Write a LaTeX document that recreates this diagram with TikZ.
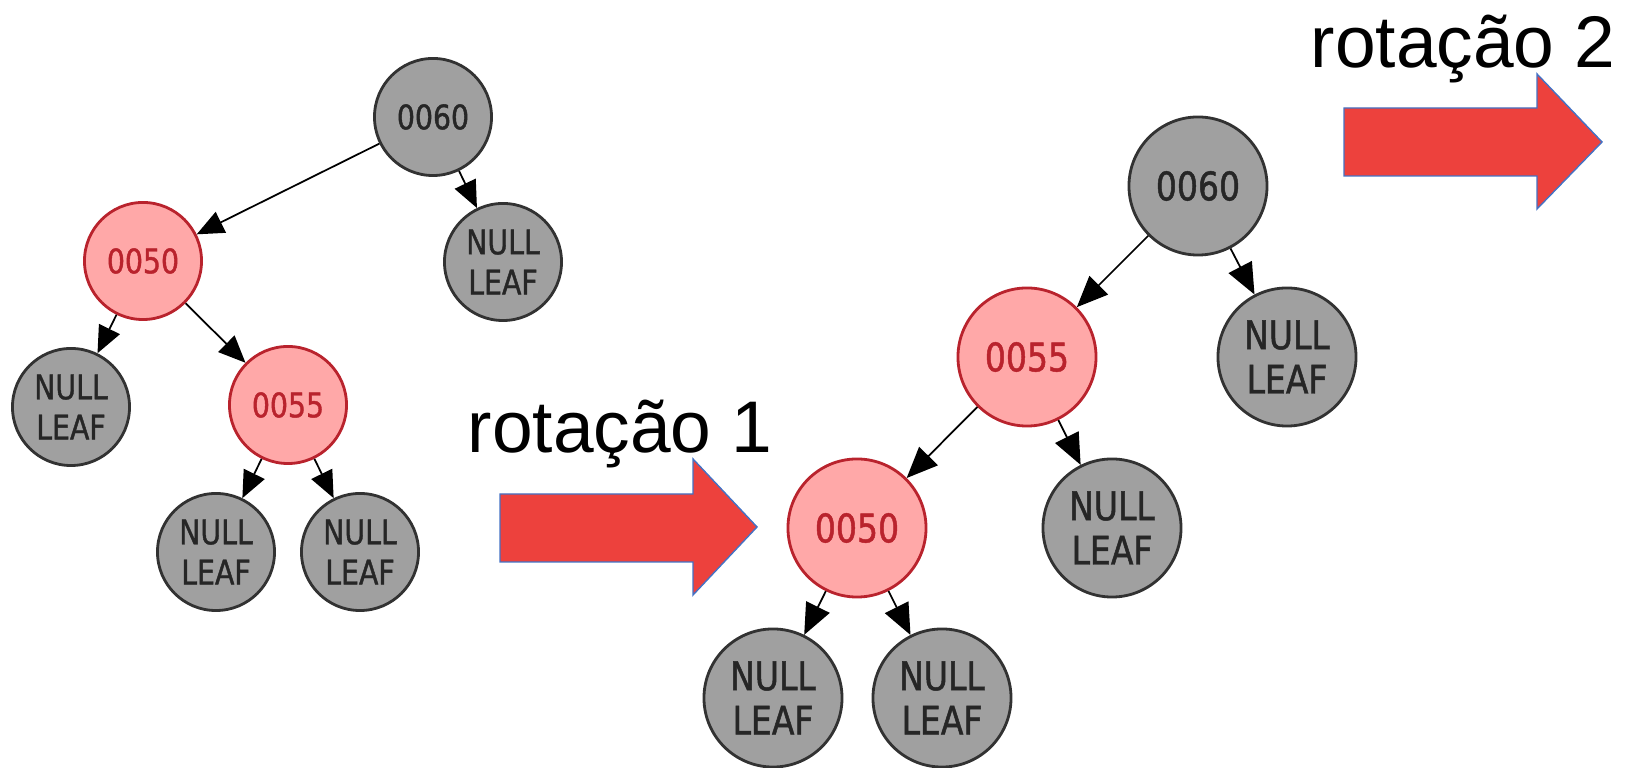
\documentclass[tikz,border=0pt]{standalone}
\usepackage{fontspec}
\setmainfont{Liberation Sans}
\newfontfamily\graphfont[FakeStretch=0.84, FakeBold=1.2]{DejaVu Sans}
\usetikzlibrary{arrows.meta}
\definecolor{nodegray}{RGB}{160,160,160}
\definecolor{nodeline}{RGB}{50,50,50}
\definecolor{nodepink}{RGB}{255,168,168}
\definecolor{nodered}{RGB}{185,35,45}
\definecolor{arrowred}{RGB}{237,65,61}
\definecolor{arrowline}{RGB}{68,114,196}

\begin{document}
\begin{tikzpicture}[x=0.01cm, y=-0.01cm,
    rbnode/.style={circle, inner sep=0pt, align=center, line width=0.8pt,
        minimum size=1.17cm, font=\graphfont\fontsize{9.6}{11.4}\selectfont},
    bignode/.style={minimum size=1.38cm, font=\graphfont\fontsize{11.2}{12.6}\selectfont},
    blacknode/.style={rbnode, fill=nodegray, draw=nodeline, text=black!85},
    rednode/.style={rbnode, fill=nodepink, draw=nodered, text=nodered},
    link/.style={-{Triangle[length=2.7mm, width=2.3mm]}, draw=black, line width=0.5pt},
    biglink/.style={link, -{Triangle[length=3.1mm, width=2.6mm]}},
    turn/.style={fill=arrowred, draw=arrowline, line width=0.4pt},
    caption/.style={anchor=base west, inner sep=0pt, font=\fontsize{20.8}{24}\selectfont}
]
    \useasboundingbox (0,0) rectangle (1627,768);

    % Tree before the first rotation
    \node[blacknode] (a60) at (433,117) {0060};
    \node[rednode] (a50) at (143,261) {0050};
    \node[blacknode] (anil1) at (503,262) {NULL\\LEAF};
    \node[blacknode] (anil2) at (71,407) {NULL\\LEAF};
    \node[rednode] (a55) at (288,405) {0055};
    \node[blacknode] (anil3) at (216,552) {NULL\\LEAF};
    \node[blacknode] (anil4) at (360,552) {NULL\\LEAF};

    \draw[link] (a60) -- (a50);
    \draw[link] (a60) -- (anil1);
    \draw[link] (a50) -- (anil2);
    \draw[link] (a50) -- (a55);
    \draw[link] (a55) -- (anil3);
    \draw[link] (a55) -- (anil4);

    % Tree after the first rotation
    \node[blacknode, bignode] (b60) at (1198,186) {0060};
    \node[rednode, bignode] (b55) at (1027,357) {0055};
    \node[blacknode, bignode] (bnil1) at (1287,357) {NULL\\LEAF};
    \node[rednode, bignode] (b50) at (857,528) {0050};
    \node[blacknode, bignode] (bnil2) at (1112,528) {NULL\\LEAF};
    \node[blacknode, bignode] (bnil3) at (773,698) {NULL\\LEAF};
    \node[blacknode, bignode] (bnil4) at (942,698) {NULL\\LEAF};

    \draw[biglink] (b60) -- (b55);
    \draw[biglink] (b60) -- (bnil1);
    \draw[biglink] (b55) -- (b50);
    \draw[biglink] (b55) -- (bnil2);
    \draw[biglink] (b50) -- (bnil3);
    \draw[biglink] (b50) -- (bnil4);

    % Rotation arrows
    \node[caption] (rot1) at (467,453) {rotação 1};
    \draw[turn] (500,494) -- (693,494) -- (693,459) -- (757,527)
        -- (693,595) -- (693,562) -- (500,562) -- cycle;

    \node[caption] (rot2) at (1310,68) {rotação 2};
    \draw[turn] (1344,108) -- (1537,108) -- (1537,74) -- (1602,142)
        -- (1537,209) -- (1537,176) -- (1344,176) -- cycle;
\end{tikzpicture}
\end{document}
